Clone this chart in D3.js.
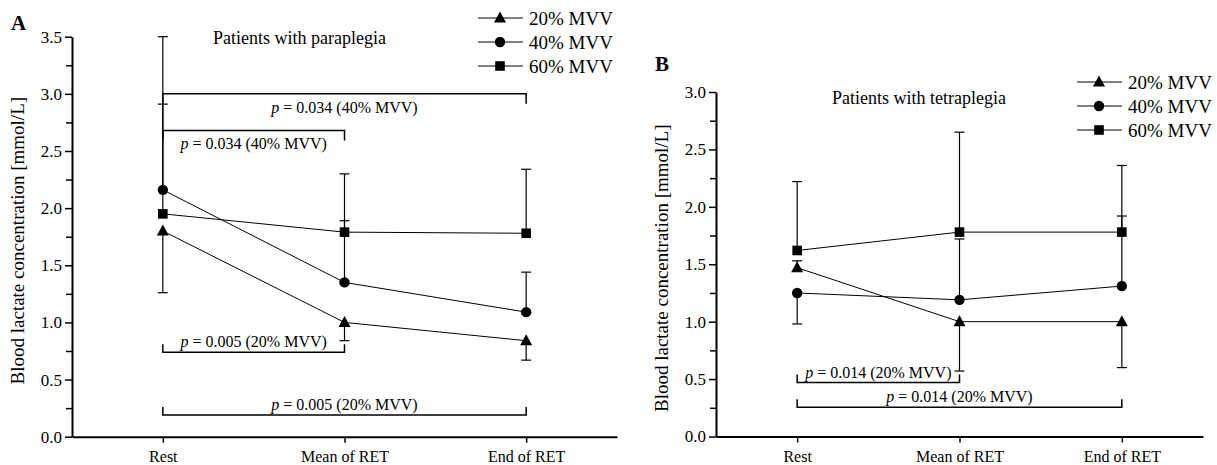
<!DOCTYPE html>
<html>
<head>
  <meta charset="utf-8">
  <title>Blood lactate</title>
  <script src="https://d3js.org/d3.v7.min.js"></script>
  <style>
    body { margin: 0; background: #fff; }
    text { font-family: "Liberation Serif", "Times New Roman", serif; fill: #000; }
  </style>
</head>
<body>
<div id="chart"></div>
<script type="text/javascript">
  const w = 1217, h = 465;

  const categories = ["Rest", "Mean of RET", "End of RET"];
  const seriesNames = ["20% MVV", "40% MVV", "60% MVV"];
  const markers = ["triangle", "circle", "square"];

  // panel A (paraplegia)
  const paraTri = [1.80, 1.00, 0.84];
  const paraCir = [2.16, 1.35, 1.09];
  const paraSq  = [1.95, 1.79, 1.78];
  const paraTriErr = [1.26, 0.84, 0.67];
  const paraCirErr = [3.50, 1.89, 1.44];
  const paraSqErr  = [2.91, 2.30, 2.34];
  const paraTicks = [0, 0.5, 1.0, 1.5, 2.0, 2.5, 3.0, 3.5];
  const paraBrackets = [
    { from: 0, to: 2, level: 3.00, dir: "down", label: "0.034 (40% MVV)" },
    { from: 0, to: 1, level: 2.68, dir: "down", label: "0.034 (40% MVV)" },
    { from: 0, to: 1, level: 0.74, dir: "up",   label: "0.005 (20% MVV)" },
    { from: 0, to: 2, level: 0.19, dir: "up",   label: "0.005 (20% MVV)" }
  ];

  // panel B (tetraplegia)
  const tetraTri = [1.47, 1.00, 1.00];
  const tetraCir = [1.25, 1.19, 1.31];
  const tetraSq  = [1.62, 1.78, 1.78];
  const tetraTriErr = [1.53, 0.57, 0.60];
  const tetraCirErr = [0.98, 1.72, 1.92];
  const tetraSqErr  = [2.22, 2.65, 2.36];
  const tetraTicks = [0, 0.5, 1.0, 1.5, 2.0, 2.5, 3.0];
  const tetraBrackets = [
    { from: 0, to: 1, level: 0.47,  dir: "up", label: "0.014 (20% MVV)" },
    { from: 0, to: 2, level: 0.255, dir: "up", label: "0.014 (20% MVV)" }
  ];

  const svg = d3.select('#chart')
              .append('svg')
              .attr('width', w)
              .attr('height', h);

  function drawMarker(g, type, x, y) {
    if (type === "circle") {
      g.append('circle').attr('cx', x).attr('cy', y).attr('r', 5.2).attr('fill', '#000');
    } else if (type === "square") {
      g.append('rect').attr('x', x - 4.8).attr('y', y - 4.8).attr('width', 9.6).attr('height', 9.6).attr('fill', '#000');
    } else {
      g.append('path').attr('d', `M${x},${y - 6.5}L${x + 6},${y + 4.5}L${x - 6},${y + 4.5}Z`).attr('fill', '#000');
    }
  }

  function panel(opt) {
    const g = svg.append('g');
    const x = d3.scaleLinear().domain([-0.5, 2.5]).range([opt.left, opt.right]);
    const y = d3.scaleLinear().domain([0, opt.ymax]).range([opt.bottom, opt.top]);

    // y axis, major + minor ticks
    const minor = d3.range(0.25, opt.ymax, 0.5);
    g.append('g').attr('class', 'yaxis').attr('transform', `translate(${opt.left},0)`)
      .call(d3.axisLeft(y).tickValues(opt.ticks).tickFormat(d3.format('.1f')).tickSize(7).tickSizeOuter(0).tickPadding(3));
    g.append('g').attr('transform', `translate(${opt.left},0)`)
      .call(d3.axisLeft(y).tickValues(minor).tickFormat('').tickSize(6).tickSizeOuter(0))
      .select('.domain').remove();
    g.append('g').attr('class', 'xaxis').attr('transform', `translate(0,${opt.bottom})`)
      .call(d3.axisBottom(x).tickValues([0, 1, 2]).tickFormat(i => categories[i]).tickSize(6).tickSizeOuter(0).tickPadding(8));
    g.selectAll('.domain').attr('stroke', '#000').attr('stroke-width', 2);
    g.selectAll('.tick line').attr('stroke', '#000').attr('stroke-width', 1.5);
    g.selectAll('.yaxis .tick text').attr('font-size', 17).attr('fill', '#000');
    g.selectAll('.xaxis .tick text').attr('font-size', 16).attr('fill', '#000');

    // axis title
    g.append('text')
      .attr('transform', `translate(${opt.labelX},${(opt.top + opt.bottom) / 2 + 4}) rotate(-90)`)
      .attr('text-anchor', 'middle')
      .attr('font-size', 19)
      .text('Blood lactate concentration [mmol/L]');

    // panel letter and title
    g.append('text').attr('x', opt.letterX).attr('y', opt.letterY)
      .attr('font-size', 21).attr('font-weight', 'bold').text(opt.letter);
    g.append('text').attr('x', opt.titleX).attr('y', opt.titleY)
      .attr('font-size', 18).text(opt.title);

    // error bars
    opt.series.forEach(s => {
      s.values.forEach((v, i) => {
        const e = s.err[i];
        g.append('line').attr('x1', x(i)).attr('x2', x(i)).attr('y1', y(v)).attr('y2', y(e))
          .attr('stroke', '#000').attr('stroke-width', 1.2);
        g.append('line').attr('x1', x(i) - 5).attr('x2', x(i) + 5).attr('y1', y(e)).attr('y2', y(e))
          .attr('stroke', '#000').attr('stroke-width', 1.2);
      });
    });

    // lines and markers
    const line = d3.line().x((d, i) => x(i)).y(d => y(d));
    opt.series.forEach(s => {
      g.append('path').datum(s.values).attr('d', line)
        .attr('fill', 'none').attr('stroke', '#000').attr('stroke-width', 1);
    });
    opt.series.forEach(s => {
      s.values.forEach((v, i) => drawMarker(g, s.marker, x(i), y(v)));
    });

    // significance brackets
    opt.brackets.forEach(b => {
      const ly = y(b.level);
      const t = b.dir === "down" ? 10 : -8;
      g.append('path')
        .attr('d', `M${x(b.from)},${ly + t}V${ly}H${x(b.to)}V${ly + t}`)
        .attr('fill', 'none').attr('stroke', '#000').attr('stroke-width', 1.5);
      const tx = g.append('text')
        .attr('x', (x(b.from) + x(b.to)) / 2)
        .attr('y', b.dir === "down" ? ly + 19 : ly - 5)
        .attr('text-anchor', 'middle')
        .attr('font-size', 16);
      tx.append('tspan').attr('font-style', 'italic').text('p');
      tx.append('tspan').text(' = ' + b.label);
    });

    // legend
    opt.series.forEach((s, k) => {
      const ly = opt.legendY + k * 24;
      g.append('line').attr('x1', opt.legendX).attr('x2', opt.legendX + 45)
        .attr('y1', ly).attr('y2', ly).attr('stroke', '#000').attr('stroke-width', 1.2);
      drawMarker(g, s.marker, opt.legendX + 22, ly);
      g.append('text').attr('x', opt.legendX + 51).attr('y', ly + 6.5)
        .attr('font-size', 19).text(seriesNames[k]);
    });
  }

  panel({
    left: 72, right: 617, top: 36.7, bottom: 436.7, ymax: 3.5, ticks: paraTicks,
    labelX: 24, letter: 'A', letterX: 11, letterY: 30,
    title: 'Patients with paraplegia', titleX: 213, titleY: 44,
    legendX: 478, legendY: 18,
    series: [
      { values: paraTri, err: paraTriErr, marker: markers[0] },
      { values: paraCir, err: paraCirErr, marker: markers[1] },
      { values: paraSq,  err: paraSqErr,  marker: markers[2] }
    ],
    brackets: paraBrackets
  });

  panel({
    left: 716, right: 1203, top: 92, bottom: 436.5, ymax: 3.0, ticks: tetraTicks,
    labelX: 668, letter: 'B', letterX: 655, letterY: 71,
    title: 'Patients with tetraplegia', titleX: 832, titleY: 104,
    legendX: 1077, legendY: 82,
    series: [
      { values: tetraTri, err: tetraTriErr, marker: markers[0] },
      { values: tetraCir, err: tetraCirErr, marker: markers[1] },
      { values: tetraSq,  err: tetraSqErr,  marker: markers[2] }
    ],
    brackets: tetraBrackets
  });
</script>
</body>
</html>
